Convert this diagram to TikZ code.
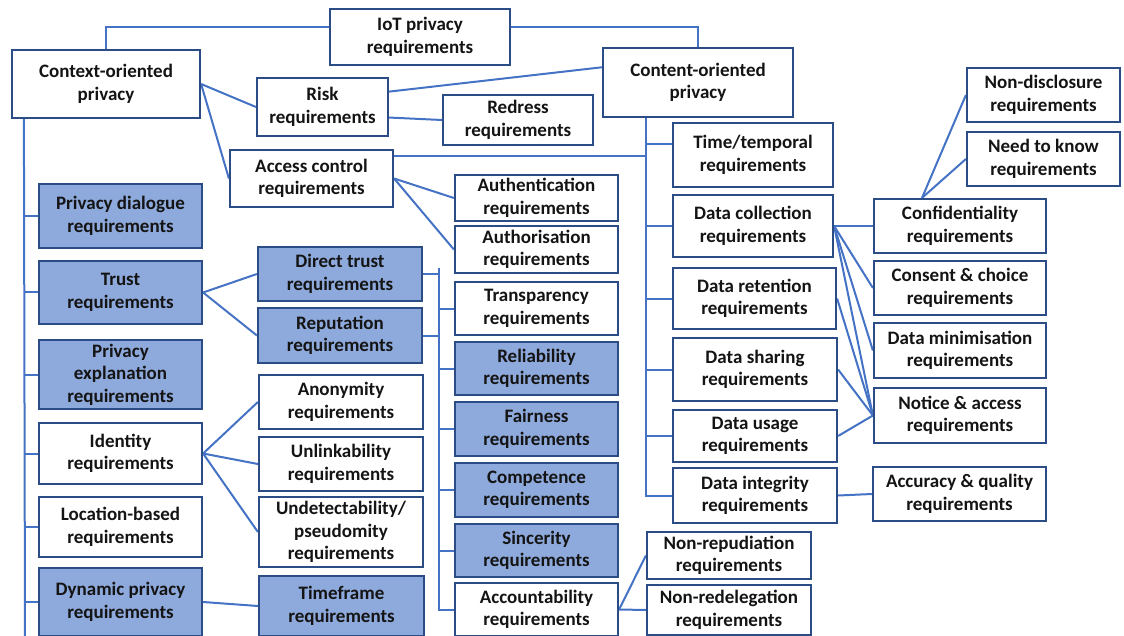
\documentclass[tikz,border=0pt]{standalone}
\usepackage{fontspec}
\setmainfont{Carlito}
\usetikzlibrary{calc,backgrounds}
\definecolor{boxline}{HTML}{2B4C84}
\definecolor{boxfill}{HTML}{8EA9DB}
\definecolor{linkline}{HTML}{4472C4}

\begin{document}
\begin{tikzpicture}[x=1pt,y=-1pt,
  req/.style={draw=boxline,line width=2.2pt,fill=white,align=center,inner sep=0pt,
    font=\fontsize{19}{22.5}\selectfont\bfseries,text=black!92},
  reqb/.style={req,fill=boxfill},
  sz/.style 2 args={minimum width=#1pt,minimum height=#2pt},
  link/.style={draw=linkline,line width=2pt}]
  \useasboundingbox (0,0) rectangle (1124,636);
  % top level
  \node[req,sz={180}{56}] (iot) at (420,37) {IoT privacy\\requirements};
  \node[req,sz={188}{68}] (ctx) at (106,84) {Context-oriented\\privacy};
  \node[req,sz={190}{69}] (cnt) at (698,82.5) {Content-oriented\\privacy};
  \node[req,sz={131}{58}] (risk) at (322.5,107) {Risk\\requirements};
  \node[req,sz={150}{50}] (redress) at (518,120) {Redress\\requirements};
  \node[req,sz={163}{57}] (access) at (311.5,178.5) {Access control\\requirements};
  % context column
  \node[reqb,sz={163}{64}] (pdial) at (120.5,216) {Privacy dialogue\\requirements};
  \node[reqb,sz={163}{63}] (trust) at (120.5,292.5) {Trust\\requirements};
  \node[reqb,sz={163}{69}] (pexpl) at (120.5,374.5) {Privacy\\explanation\\requirements};
  \node[req,sz={163}{61}] (ident) at (120.5,453.5) {Identity\\requirements};
  \node[req,sz={163}{60}] (locat) at (120.5,527) {Location-based\\requirements};
  \node[reqb,sz={163}{68}] (dyn) at (120.5,602) {Dynamic privacy\\requirements};
  \node[reqb,sz={164}{54}] (dtrust) at (340,274) {Direct trust\\requirements};
  \node[reqb,sz={164}{55}] (reput) at (340,335.5) {Reputation\\requirements};
  \node[req,sz={164}{54}] (anon) at (341,402) {Anonymity\\requirements};
  \node[req,sz={164}{54}] (unlink) at (341,464) {Unlinkability\\requirements};
  \node[req,sz={164}{70}] (undet) at (341,532) {Undetectability/\\pseudomity\\requirements};
  \node[reqb,sz={165}{60}] (timefr) at (341.5,606) {Timeframe\\requirements};
  \node[req,sz={163}{46}] (authn) at (536.5,198) {Authentication\\requirements};
  \node[req,sz={163}{47}] (authz) at (536.5,249.5) {Authorisation\\requirements};
  \node[req,sz={163}{53}] (transp) at (536.5,308.5) {Transparency\\requirements};
  \node[reqb,sz={163}{53}] (reliab) at (536.5,368.5) {Reliability\\requirements};
  \node[reqb,sz={163}{54}] (fair) at (536.5,429) {Fairness\\requirements};
  \node[reqb,sz={163}{54}] (compet) at (536.5,490) {Competence\\requirements};
  \node[reqb,sz={163}{53}] (sincer) at (536.5,550.5) {Sincerity\\requirements};
  \node[req,sz={163}{53}] (account) at (536.5,609.5) {Accountability\\requirements};
  \node[req,sz={164}{47}] (nonrep) at (729,555.5) {Non-repudiation\\requirements};
  \node[req,sz={164}{50}] (nonredel) at (729,610) {Non-redelegation\\requirements};
  % content column
  \node[req,sz={160}{64}] (time) at (753,155) {Time/temporal\\requirements};
  \node[req,sz={160}{62}] (dcoll) at (753,226) {Data collection\\requirements};
  \node[req,sz={163}{61}] (dret) at (754.5,298.5) {Data retention\\requirements};
  \node[req,sz={164}{63}] (dshare) at (755,369.5) {Data sharing\\requirements};
  \node[req,sz={164}{52}] (dusage) at (755,436) {Data usage\\requirements};
  \node[req,sz={164}{55}] (dinteg) at (755,495.5) {Data integrity\\requirements};
  \node[req,sz={172}{54}] (conf) at (960,226) {Confidentiality\\requirements};
  \node[req,sz={172}{54}] (consent) at (960,288) {Consent \& choice\\requirements};
  \node[req,sz={172}{55}] (dmin) at (960,350.5) {Data minimisation\\requirements};
  \node[req,sz={172}{55}] (notice) at (960,415.5) {Notice \& access\\requirements};
  \node[req,sz={173}{54}] (accur) at (959.5,494) {Accuracy \& quality\\requirements};
  \node[req,sz={153}{54}] (nondis) at (1043.5,95) {Non-disclosure\\requirements};
  \node[req,sz={153}{54}] (needk) at (1043.5,159) {Need to know\\requirements};
  % bus points
  \coordinate (lbus) at ([xshift=13pt]ctx.south west);
  \coordinate (lend) at (25,640);
  \coordinate (mbus) at (439,268);
  \coordinate (cbus) at ([xshift=44pt]cnt.south west);
  \coordinate (ctop) at ([xshift=-38pt]conf.north);
  \begin{scope}[on background layer]
    \draw[link] (iot.174) -| (ctx.north);
    \draw[link] (iot.6) -| (cnt.north);
    \draw[link] (ctx.east) -- (risk.west);
    \draw[link] (ctx.east) -- (access.west);
    \draw[link] (risk.13) -- (cnt.171);
    \draw[link] (risk.-9) -- (redress.west);
    \draw[link] (access.15) -- (access.15 -| cbus);
    \draw[link] (access.east) -- (authn.west);
    \draw[link] (access.east) -- (authz.west);
    % left bus
    \draw[link] (lbus) -- (lend);
    \draw[link] (lbus |- pdial.west) -- (pdial.west);
    \draw[link] (lbus |- trust.west) -- (trust.west);
    \draw[link] (lbus |- pexpl.west) -- (pexpl.west);
    \draw[link] (lbus |- ident.west) -- (ident.west);
    \draw[link] (lbus |- locat.west) -- (locat.west);
    \draw[link] (lbus |- dyn.west) -- (dyn.west);
    \draw[link] (trust.east) -- (dtrust.west);
    \draw[link] (trust.east) -- (reput.west);
    \draw[link] (ident.east) -- (anon.west);
    \draw[link] (ident.east) -- (unlink.west);
    \draw[link] (ident.east) -- (undet.west);
    \draw[link] (dyn.east) -- (timefr.west);
    % middle bus
    \draw[link] (mbus) |- (account.west);
    \draw[link] (dtrust.east) -- (dtrust.east -| mbus);
    \draw[link] (reput.east) -- (reput.east -| mbus);
    \draw[link] (mbus |- transp.west) -- (transp.west);
    \draw[link] (mbus |- reliab.west) -- (reliab.west);
    \draw[link] (mbus |- fair.west) -- (fair.west);
    \draw[link] (mbus |- compet.west) -- (compet.west);
    \draw[link] (mbus |- sincer.west) -- (sincer.west);
    \draw[link] (account.east) -- (nonrep.west);
    \draw[link] (account.east) -- (nonredel.west);
    % content bus
    \draw[link] (cbus) |- (dinteg.west);
    \draw[link] (cbus |- time.172) -- (time.172);
    \draw[link] (cbus |- dcoll.west) -- (dcoll.west);
    \draw[link] (cbus |- dret.west) -- (dret.west);
    \draw[link] (cbus |- dshare.west) -- (dshare.west);
    \draw[link] (cbus |- dusage.west) -- (dusage.west);
    \draw[link] (dcoll.east) -- (conf.west);
    \draw[link] (dcoll.east) -- (consent.west);
    \draw[link] (dcoll.east) -- (dmin.west);
    \draw[link] (dcoll.east) -- (notice.west);
    \draw[link] (dret.east) -- (notice.west);
    \draw[link] (dshare.east) -- (notice.west);
    \draw[link] (dusage.east) -- (notice.west);
    \draw[link] (dinteg.east) -- (accur.west);
    \draw[link] (ctop) -- (nondis.west);
    \draw[link] (ctop) -- (needk.west);
  \end{scope}
\end{tikzpicture}
\end{document}
